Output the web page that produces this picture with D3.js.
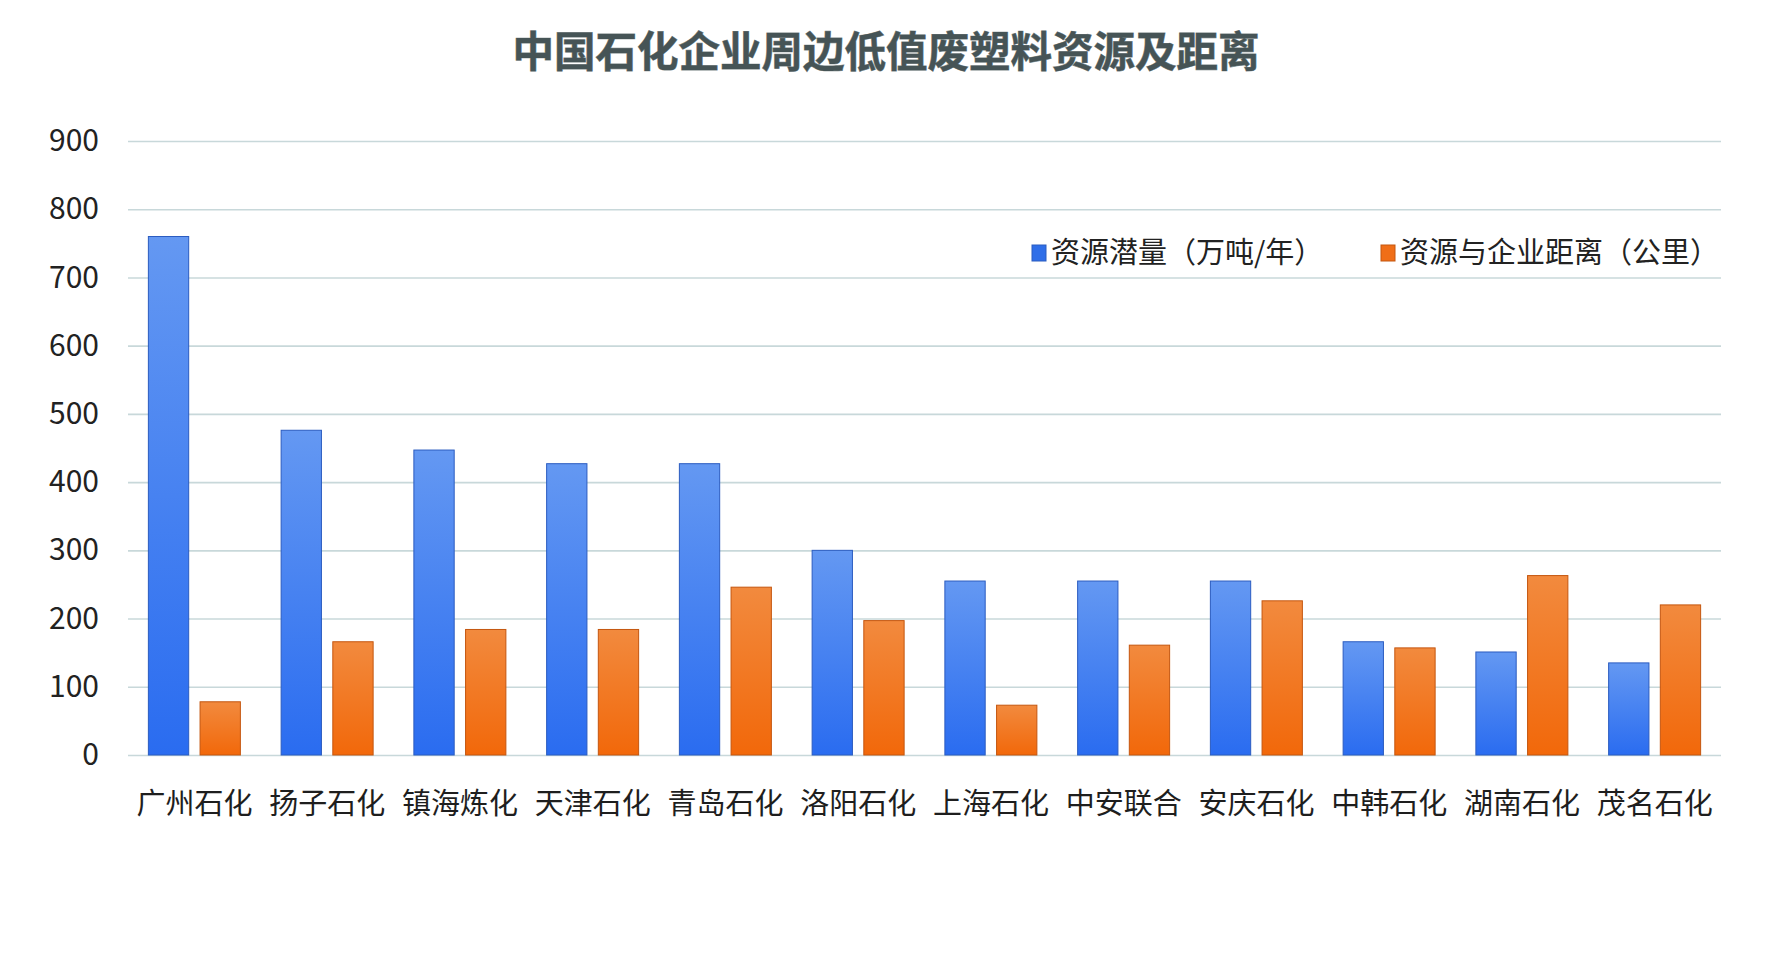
<!DOCTYPE html>
<html>
<head>
<meta charset="utf-8">
<script src="https://cdn.jsdelivr.net/npm/d3@7"></script>
<style>
	body { margin: 0; background: #fff; }
	svg { display: block; font-family: "Noto Sans CJK SC", "Noto Sans", sans-serif; }
</style>
</head>
<body>
<svg width="1772" height="962"></svg>
<script>
'use strict';

// chart data
var categories = ['广州石化', '扬子石化', '镇海炼化', '天津石化', '青岛石化', '洛阳石化',
	'上海石化', '中安联合', '安庆石化', '中韩石化', '湖南石化', '茂名石化'];
var potential = [760, 476, 447, 427, 427, 300, 255, 255, 255, 166, 151, 135];
var distance = [78, 166, 184, 184, 246, 197, 73, 161, 226, 157, 263, 220];
var seriesNames = ['资源潜量（万吨/年）', '资源与企业距离（公里）'];
var yTicks = [0, 100, 200, 300, 400, 500, 600, 700, 800, 900];
var title = '中国石化企业周边低值废塑料资源及距离';

var svg = d3.select('svg');
var margin = { left: 128, right: 51, top: 141, bottom: 207 };
var width = 1772 - margin.left - margin.right;
var height = 962 - margin.top - margin.bottom;

var defs = svg.append('defs');
function gradient(id, top, bottom) {
	var g = defs.append('linearGradient')
		.attr('id', id)
		.attr('x1', 0).attr('y1', 0).attr('x2', 0).attr('y2', 1);
	g.append('stop').attr('offset', '0%').attr('stop-color', top);
	g.append('stop').attr('offset', '100%').attr('stop-color', bottom);
}
gradient('grad-blue', '#6498f2', '#2a6cf0');
gradient('grad-orange', '#f28a3e', '#f2680a');
var fills = ['url(#grad-blue)', 'url(#grad-orange)'];
var strokes = ['#2b5cc0', '#c4560f'];
var legendFills = ['#2f6ee8', '#f06e18'];

// title
svg.append('text')
	.attr('x', 886)
	.attr('y', 67)
	.attr('text-anchor', 'middle')
	.attr('font-size', 41.5)
	.attr('font-weight', 'bold')
	.attr('fill', '#465456')
	.style('paint-order', 'stroke')
	.attr('stroke', '#7f8b8b')
	.attr('stroke-width', 0.8)
	.text(title);

var g = svg.append('g')
	.attr('transform', 'translate(' + margin.left + ',' + margin.top + ')');

var y = d3.scaleLinear().domain([0, 900]).range([height, 0]);
var x0 = d3.scaleBand().domain(categories).range([0, width]);
var groupW = 92;
var x1 = d3.scaleBand()
	.domain([0, 1])
	.range([(x0.bandwidth() - groupW) / 2, (x0.bandwidth() + groupW) / 2])
	.paddingInner(0.22);

// grid lines
g.append('g')
	.attr('class', 'grid')
	.call(d3.axisLeft(y).tickValues(yTicks).tickSize(-width).tickFormat(''))
	.call(function (s) {
		s.select('.domain').remove();
		s.selectAll('line').attr('stroke', '#c8d8da').attr('stroke-width', 1.6);
	});

// y tick labels
g.append('g')
	.call(d3.axisLeft(y).tickValues(yTicks).tickSize(0).tickPadding(29))
	.call(function (s) {
		s.select('.domain').remove();
		s.selectAll('text')
			.attr('font-size', 30)
			.attr('fill', '#222')
			.style('font-family', '"Noto Sans CJK SC", sans-serif');
	});

// category labels
g.append('g')
	.attr('transform', 'translate(0,' + height + ')')
	.call(d3.axisBottom(x0).tickSize(0).tickPadding(38))
	.call(function (s) {
		s.select('.domain').remove();
		s.selectAll('text')
			.attr('font-size', 29)
			.attr('fill', '#1e1e1e')
			.style('font-family', '"Noto Sans CJK SC", sans-serif');
	});

// bars
var rows = categories.map(function (c, i) {
	return { cat: c, values: [potential[i], distance[i]] };
});
var groups = g.selectAll('g.bar-group')
	.data(rows)
	.enter()
	.append('g')
	.attr('class', 'bar-group')
	.attr('transform', function (d) { return 'translate(' + x0(d.cat) + ',0)'; });

groups.selectAll('rect')
	.data(function (d) { return d.values.map(function (v, k) { return { k: k, v: v }; }); })
	.enter()
	.append('rect')
	.attr('x', function (d) { return x1(d.k); })
	.attr('y', function (d) { return y(d.v); })
	.attr('width', x1.bandwidth())
	.attr('height', function (d) { return height - y(d.v); })
	.attr('fill', function (d) { return fills[d.k]; })
	.attr('stroke', function (d) { return strokes[d.k]; })
	.attr('stroke-width', 1);

// legend
var legendX = [1032, 1381];
var legend = svg.append('g').attr('class', 'legend');
seriesNames.forEach(function (name, k) {
	legend.append('rect')
		.attr('x', legendX[k])
		.attr('y', 245)
		.attr('width', 14)
		.attr('height', 16)
		.attr('fill', legendFills[k])
		.attr('stroke', strokes[k]);
	legend.append('text')
		.attr('x', legendX[k] + 19)
		.attr('y', 263)
		.attr('font-size', 29)
		.attr('fill', '#222')
		.text(name);
});
</script>
</body>
</html>
